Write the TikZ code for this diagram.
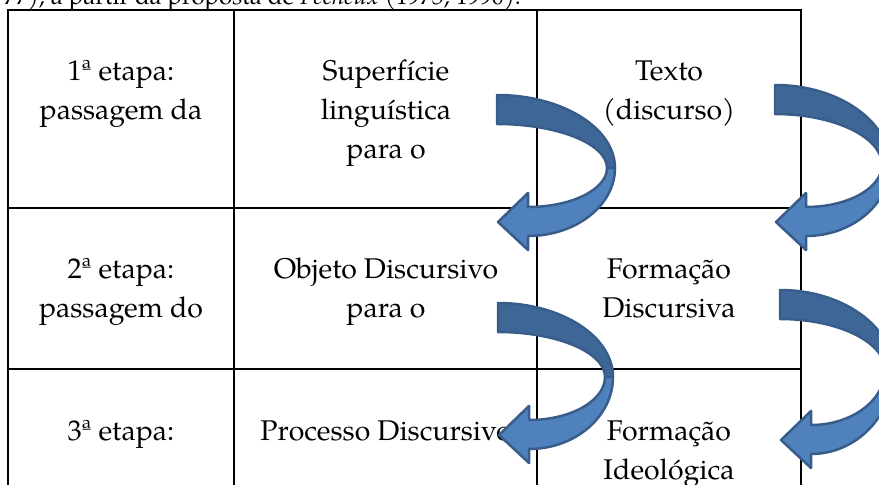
\documentclass[tikz,border=0pt]{standalone}
\usepackage{fontspec}
\setmainfont{texgyrepagella}[Extension=.otf,UprightFont=*-regular,ItalicFont=*-italic,BoldFont=*-bold,BoldItalicFont=*-bolditalic]
\newfontfamily\pagitalic{texgyrepagella-italic.otf}
\usepackage{xcolor}
\usepackage{tikz}

\definecolor{bandlight}{HTML}{4F81BD}
\definecolor{banddark}{HTML}{3E6797}
\definecolor{bandedge}{HTML}{385D8A}

\tikzset{
    cell/.style={align=center, anchor=base, inner sep=0pt, font=\fontsize{28.5}{39}\selectfont},
    grid/.style={line width=2pt, black},
    darkpart/.style={fill=banddark, draw=bandedge, line width=2.5pt, line join=round},
    lightpart/.style={fill=bandlight, draw=bandedge, line width=2.5pt, line join=round}
}

% curved block arrow: tail x, tail top y, right x, middle y, tip y
\newcommand{\turnarrow}[5]{%
    \filldraw[darkpart] (#1,#2) .. controls ({#1+0.55*(#3-#1)},#2) and (#3,{#4-0.55*(#4-#2)}) .. (#3,#4)
        -- ({#3-8},#4) .. controls ({#3-8},{#4-0.55*(#4-#2-29)}) and ({#1+0.55*(#3-8-#1)},{#2+29}) .. (#1,{#2+29}) -- cycle;
    \filldraw[lightpart] ({#3-8},#4) .. controls ({#3-8},{#4+0.55*(#5-15-#4)}) and ({#1+31+0.55*(#3-8-#1-31)},{#5-15}) .. ({#1+31},{#5-15})
        -- ({#1+31},{#5-29}) -- ({#1+1},#5) -- ({#1+31},{#5+28}) -- ({#1+31},{#5+14})
        .. controls ({#1+31+0.55*(#3-#1-31)},{#5+14}) and (#3,{#4+0.55*(#5+14-#4)}) .. (#3,#4) -- cycle;
}

\begin{document}
\begin{tikzpicture}[x=1pt, y=-1pt]
        \useasboundingbox (0,0) rectangle (879,485);
        \clip (0,0) rectangle (879,485);

        % caption line, cut at the top
        \node[anchor=base east, inner sep=0pt, font=\fontsize{24}{30}\selectfont] (fonte) at (521,4)
            {77), a partir da proposta de {\pagitalic Pêcheux} (1975, 1990).};

        % table
        \draw[grid] (8,10) rectangle (801,500);
        \draw[grid] (234,10) -- (234,500);
        \draw[grid] (537,10) -- (537,500);
        \draw[grid] (8,208) -- (801,208);
        \draw[grid] (8,369) -- (801,369);

        % row 1 (base = last line)
        \node[cell] (etapa1) at (121,119) {1ª etapa:\\passagem da};
        \node[cell] (superficie) at (386,158) {Superfície\\linguística\\para o};
        \node[cell] (texto) at (669,119) {Texto\\(discurso)};

        % row 2
        \node[cell] (etapa2) at (121,317) {2ª etapa:\\passagem do};
        \node[cell] (objeto) at (386,317) {Objeto Discursivo\\para o};
        \node[cell] (fdiscursiva) at (669,317) {Formação\\Discursiva};

        % row 3
        \node[cell] (etapa3) at (121,440) {3ª etapa:};
        \node[cell] (processo) at (386,440) {Processo Discursivo};
        \node[cell] (fideologica) at (669,479) {Formação\\Ideológica};

        % arrows
        \turnarrow{497}{95}{615}{168}{222}
        \turnarrow{775}{85}{890}{165}{222}
        \turnarrow{498}{303}{613}{377}{435}
        \turnarrow{780}{290}{893}{370}{440}
    \end{tikzpicture}
\end{document}
